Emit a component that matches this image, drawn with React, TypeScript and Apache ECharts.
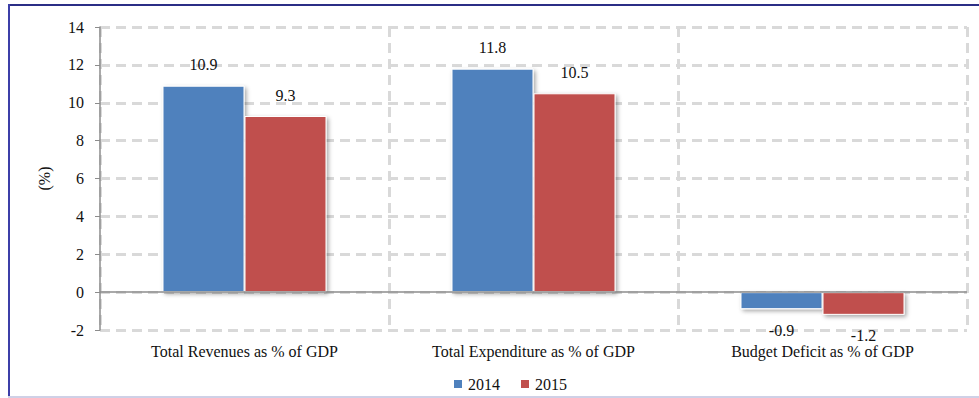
import React, { useEffect, useRef } from "react";
import * as echarts from "echarts";

const categories = [
  "Total Revenues as % of GDP",
  "Total Expenditure as % of GDP",
  "Budget Deficit as % of GDP",
];
const seriesNames = ["2014", "2015"];
const values2014 = [10.9, 11.8, -0.9];
const values2015 = [9.3, 10.5, -1.2];
const yTicks = { min: -2, max: 14, interval: 2 };
const colors = ["#4f81bd", "#c0504d"];

const FONT = "Liberation Serif";
const FS = 16;

function toData(vals: number[]) {
  return vals.map((v) => ({
    value: v,
    label: { position: v < 0 ? "bottom" : "top" },
  }));
}

export default function App() {
  const ref = useRef<HTMLDivElement>(null);
  useEffect(() => {
    if (!ref.current) return;
    const chart = echarts.init(ref.current, undefined, { renderer: "svg" });
    const mkSeries = (name: string, vals: number[], color: string, withMark: boolean) => ({
      name,
      type: "bar",
      data: toData(vals),
      barWidth: 82,
      barGap: "0%",
      itemStyle: {
        color,
        borderColor: "#ffffff",
        borderWidth: 1,
        shadowColor: "rgba(0,0,0,0.35)",
        shadowBlur: 4,
        shadowOffsetX: 2,
        shadowOffsetY: 2,
      },
      label: {
        show: true,
        distance: 13,
        color: "#111",
        fontFamily: FONT,
        fontSize: FS,
      },
      markLine: withMark
        ? {
            silent: true,
            symbol: "none",
            label: { show: false },
            lineStyle: { color: "#8c8c8c", type: "solid", width: 1.5 },
            data: [{ yAxis: 0 }],
          }
        : undefined,
      z: 3,
    });
    chart.setOption({
      animation: false,
      textStyle: { fontFamily: FONT },
      grid: { left: 100, right: 12, top: 27, bottom: 68 },
      legend: {
        data: seriesNames,
        left: 447,
        top: 371,
        itemWidth: 10,
        itemHeight: 10,
        itemGap: 19,
        icon: "rect",
        textStyle: { fontFamily: FONT, fontSize: FS, color: "#111" },
      },
      xAxis: {
        type: "category",
        data: categories,
        axisLine: { show: false, onZero: false },
        axisTick: { show: false },
        axisLabel: {
          fontFamily: FONT,
          fontSize: FS,
          color: "#111",
          margin: 13,
        },
        splitLine: {
          show: true,
          lineStyle: { color: "#d9d9d9", type: [10, 6], width: 3 },
        },
      },
      yAxis: {
        type: "value",
        min: yTicks.min,
        max: yTicks.max,
        interval: yTicks.interval,
        name: "(%)",
        nameLocation: "middle",
        nameGap: 48,
        nameRotate: 90,
        nameTextStyle: { fontFamily: FONT, fontSize: FS, color: "#111" },
        axisLine: { show: true, lineStyle: { color: "#8c8c8c", width: 1.5 } },
        axisTick: { show: true, length: 5, lineStyle: { color: "#8c8c8c" } },
        axisLabel: {
          fontFamily: FONT,
          fontSize: FS,
          color: "#111",
          margin: 16,
        },
        splitLine: {
          show: true,
          lineStyle: { color: "#d9d9d9", type: [10, 6], width: 3 },
        },
      },
      series: [
        mkSeries(seriesNames[0], values2014, colors[0], true),
        mkSeries(seriesNames[1], values2015, colors[1], false),
      ],
    });
    return () => chart.dispose();
  }, []);

  return (
    <div
      style={{
        position: "fixed",
        left: 0,
        top: 0,
        width: 979,
        height: 398,
        background: "#fff",
      }}
    >
      <div ref={ref} style={{ position: "absolute", left: 0, top: 0, width: 979, height: 398 }} />
      <div style={{ position: "absolute", left: 8, top: 4, width: 971, height: 2, background: "#2b2e86" }} />
      <div style={{ position: "absolute", left: 8, top: 4, width: 2, height: 393, background: "#3c3fa8" }} />
      <div style={{ position: "absolute", left: 8, top: 396, width: 971, height: 1.5, background: "#cfd0e6" }} />
    </div>
  );
}
